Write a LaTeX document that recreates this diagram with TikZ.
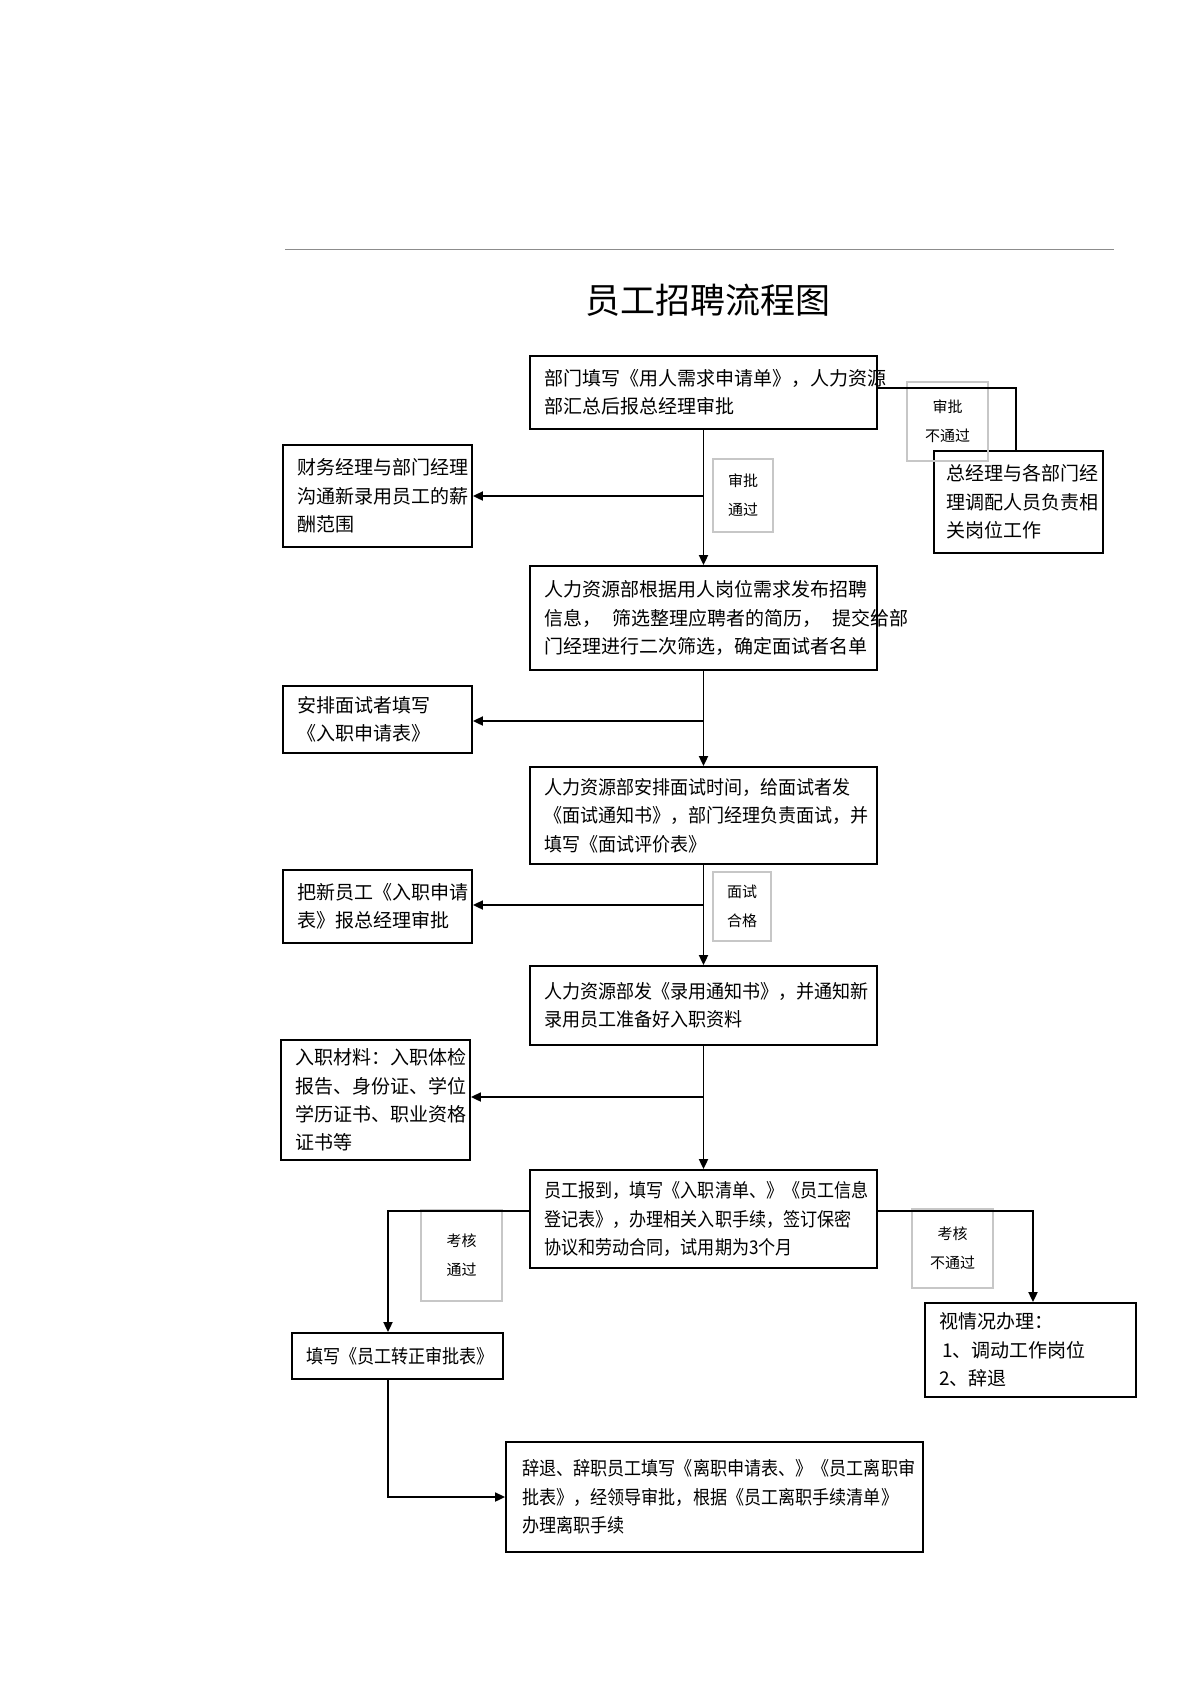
\documentclass[tikz,border=0pt]{standalone}
\usepackage{fontspec}
\setmainfont{Noto Sans CJK SC}
\newfontfamily\narrowa[FakeStretch=0.95]{Noto Sans CJK SC}
\newfontfamily\narrowb[FakeStretch=0.9]{Noto Sans CJK SC}
\usetikzlibrary{arrows.meta}
\tikzset{
  box/.style={draw=black, line width=0.9pt, rectangle, inner xsep=7pt, inner ysep=0pt,
    align=left, font=\fontsize{9.5pt}{14.2pt}\selectfont},
  lbl/.style={draw=black!22, line width=0.6pt, rectangle, inner sep=0pt, align=center,
    font=\fontsize{7.5pt}{14.5pt}\selectfont},
  conn/.style={line width=0.9pt},
  arr/.style={conn, -{Triangle[length=5pt,width=4.5pt]}},
  titlestyle/.style={font=\fontsize{17.5pt}{20pt}\selectfont, inner sep=0pt}
}
\begin{document}
\begin{tikzpicture}[x=0.5pt,y=-0.5pt]
\useasboundingbox (0,0) rectangle (1190,1683);

% top rule and title
\coordinate (rl) at (285,249);
\coordinate (rr) at (1114,249);
\draw[black!45, line width=0.5pt] (rl) -- (rr);
\node[titlestyle] (title) at (708,300) {员工招聘流程图};

% main column
\node[box, minimum width=173.5pt, minimum height=36.5pt, text width=159.5pt] (b1) at (703.5,392.5)
  {部门填写《用人需求申请单》，人力资源\\部汇总后报总经理审批};
\node[box, minimum width=173.5pt, minimum height=52pt, text width=159.5pt] (b2) at (703.5,618)
  {人力资源部根据用人岗位需求发布招聘\\\mbox{信息，\hspace{0.6em}筛选整理应聘者的简历，\hspace{0.6em}提交给部}\\门经理进行二次筛选，确定面试者名单};
\node[box, minimum width=173.5pt, minimum height=48.5pt, text width=159.5pt,
  font=\fontsize{9.5pt}{14.2pt}\narrowa] (b3) at (703.5,815.5)
  {人力资源部安排面试时间，给面试者发\\《面试通知书》，部门经理负责面试，并\\填写《面试评价表》};
\node[box, minimum width=173.5pt, minimum height=39.5pt, text width=159.5pt,
  font=\fontsize{9.5pt}{14.2pt}\narrowa] (b4) at (703.5,1005.5)
  {人力资源部发《录用通知书》，并通知新\\录用员工准备好入职资料};
\node[box, minimum width=173.5pt, minimum height=49pt, text width=159.5pt,
  font=\fontsize{9.5pt}{14.2pt}\narrowb] (b5) at (703.5,1219)
  {员工报到，填写《入职清单、》《员工信息\\登记表》，办理相关入职手续，签订保密\\协议和劳动合同，试用期为3个月};

% side boxes
\node[box, minimum width=94.5pt, minimum height=51pt, text width=80.5pt] (fin) at (377.5,496)
  {财务经理与部门经理\\沟通新录用员工的薪\\酬范围};
\node[box, minimum width=84.5pt, minimum height=51pt, text width=72.5pt, inner xsep=6pt] (gm) at (1018.5,502)
  {总经理与各部门经\\理调配人员负责相\\关岗位工作};
\node[box, minimum width=94.5pt, minimum height=33.5pt, text width=80.5pt] (arr1) at (377.5,719.5)
  {安排面试者填写\\《入职申请表》};
\node[box, minimum width=94.5pt, minimum height=36.5pt, text width=80.5pt] (newe) at (377.5,906.5)
  {把新员工《入职申请\\表》报总经理审批};
\node[box, minimum width=94.5pt, minimum height=60pt, text width=80.5pt] (mat) at (375.5,1100)
  {入职材料：入职体检\\报告、身份证、学位\\学历证书、职业资格\\证书等};
\node[box, minimum width=105.5pt, minimum height=23pt, text width=91.5pt,
  font=\fontsize{9.5pt}{14.2pt}\narrowb] (zz) at (397.5,1356)
  {填写《员工转正审批表》};
\node[box, minimum width=105.5pt, minimum height=47pt, text width=91.5pt] (vv) at (1030.5,1350)
  {视情况办理：\\\hspace{1.5pt}1、调动工作岗位\\2、辞退};
\node[box, minimum width=208.5pt, minimum height=55pt, text width=192.5pt, inner xsep=8pt,
  font=\fontsize{9.5pt}{14.2pt}\narrowb] (dd) at (714.5,1497)
  {辞退、辞职员工填写《离职申请表、》《员工离职审\\批表》，经领导审批，根据《员工离职手续清单》\\办理离职手续};

% labels
\node[lbl, minimum width=40.5pt, minimum height=39.5pt] (l1) at (947.5,421.5) {审批\\不通过};
\node[lbl, minimum width=30pt, minimum height=36.5pt] (l2) at (743,495.5) {审批\\通过};
\node[lbl, minimum width=29pt, minimum height=34.5pt] (l3) at (742,906.5) {面试\\合格};
\node[lbl, minimum width=40.5pt, minimum height=45.5pt] (l4) at (461.5,1255.5) {考核\\通过};
\node[lbl, minimum width=40.5pt, minimum height=39.5pt] (l5) at (952.5,1248.5) {考核\\不通过};

% helper coordinates
\coordinate (gr) at (1016,388);
\coordinate (j1) at (703.5,496);
\coordinate (j2) at (703.5,721);
\coordinate (j3) at (703.5,905);
\coordinate (j4) at (703.5,1097);
\coordinate (zl) at (388,1211);
\coordinate (vr) at (1033,1211);

% connectors
\draw[arr] (b1.south) -- (b2.north);
\draw[arr] (j1) -- (fin.east |- j1);
\draw[arr] (b2.south) -- (b3.north);
\draw[arr] (j2) -- (arr1.east |- j2);
\draw[arr] (b3.south) -- (b4.north);
\draw[arr] (j3) -- (newe.east |- j3);
\draw[arr] (b4.south) -- (b5.north);
\draw[arr] (j4) -- (mat.east |- j4);
\draw[conn] (b1.east |- gr) -- (gr) -- (gr |- gm.north);
\draw[arr] (b5.west |- zl) -- (zl) -- (zl |- zz.north);
\draw[arr] (b5.east |- vr) -- (vr) -- (vr |- vv.north);
\draw[arr] (zz.south -| zl) |- (dd.west);
\end{tikzpicture}
\end{document}
